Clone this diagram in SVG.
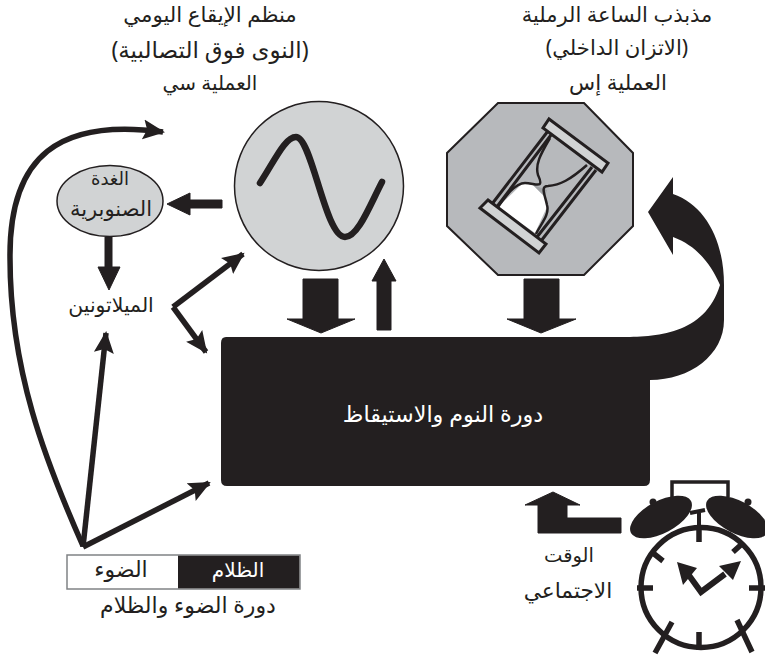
<svg xmlns="http://www.w3.org/2000/svg" width="765" height="659" viewBox="0 0 765 659">
<style>
text{font-family:"Noto Sans","DejaVu Sans",sans-serif;font-size:21px;fill:#231f20;text-anchor:middle;direction:rtl}
.w{fill:#fff}
.k{fill:#231f20;stroke:#231f20;stroke-linejoin:round}
.l{fill:none;stroke:#231f20;stroke-width:5.5}
.g{fill:#d1d3d4;stroke:#231f20;stroke-width:1.5}
</style>
<defs>
<marker id="h" markerUnits="userSpaceOnUse" markerWidth="24" markerHeight="24" refX="20" refY="12" orient="auto" viewBox="0 0 24 24"><path d="M0,2L22,12L0,22L4,12Z" fill="#231f20"/></marker>
</defs>
<rect width="765" height="659" fill="#fff"/>
<g id="connectors">
<path class="l" d="M83,546C45,460 10,370 10,258C9,155 60,118 163,132" marker-end="url(#h)"/>
<path class="l" d="M83,547L106,333" marker-end="url(#h)"/>
<path class="l" d="M83,547L209,483" marker-end="url(#h)"/>
<path class="l" d="M173,307L243,254" marker-end="url(#h)"/>
<path class="l" d="M173,307L206,352" marker-end="url(#h)"/>
<path class="k" d="M222,200V208H190V215L167,204L190,193V200Z"/>
<path class="k" d="M105,237H112V267H120L109,290L98,267H105Z"/>
<path class="k" d="M303,279H338V319H355L321,333L287,319H303Z"/>
<path class="k" d="M524,279H559V319H576L541,333L507,319H524Z"/>
<path class="k" d="M377,330V281H372L384,259L396,281H391V330Z"/>
<path class="k" d="M553,492L580,505H567V518H621V533H538V505H525Z"/>
</g>
<g id="sleep-wake">
<path d="M226,337H620C655,337 705,335 720,285C710,262 695,245 673,237V255L648,212L673,177V194C705,205 724,240 724,285V320C724,355 690,380 650,380V480Q650,486 644,486H227Q221,486 221,480V343Q221,337 226,337Z" fill="#231f20"/>
<text class="w" x="443" y="422" style="font-size:22.300px">دورة النوم والاستيقاظ</text>
</g>
<g id="circadian">
<circle class="g" cx="319" cy="186" r="84.500"/>
<path d="M260,183C275,160 285,137 296,137C312,137 325,237 345,237C358,237 370,205 382,182" fill="none" stroke="#231f20" stroke-width="6.500" stroke-linecap="round"/>
<text x="210" y="22" style="font-size:21.300px">منظم الإيقاع اليومي</text>
<text x="210" y="58" style="font-size:23px">(النوى فوق التصالبية)</text>
<text x="210" y="90" style="font-size:20px">العملية سي</text>
</g>
<g id="hourglass">
<path d="M498,103H584L633,153V226L584,275H498L447,226V153Z" fill="#b7b9bc" stroke="#231f20" stroke-width="2"/>
<path d="M498,207L523,183L533,185L545,197L547,207L535,233Z" fill="#fff"/>
<path d="M533,185L545,197L547,190Z" fill="#a0a2a5"/>
<path d="M550,138C540,155 535,165 538,175C545,190 535,183 525,183C515,183 505,197 498,207M587,165C570,180 560,185 548,186C540,186 545,195 547,205C550,215 540,225 536,234" fill="none" stroke="#231f20" stroke-width="2.500"/>
<path d="M548,131L492,204M551,135L496,208M592,167L537,237M596,170L541,241" stroke="#231f20" stroke-width="3" fill="none"/>
<path d="M549,119L608,163L602,172L543,128ZM488,200L546,244L539,253L480,208Z" fill="#d1d3d4" stroke="#231f20" stroke-width="3"/>
<text x="617" y="22">مذبذب الساعة الرملية</text>
<text x="617" y="55" style="font-size:21.200px">(الاتزان الداخلي)</text>
<text x="618" y="90" style="font-size:21.400px">العملية إس</text>
</g>
<g id="pineal">
<ellipse class="g" cx="110" cy="201" rx="53" ry="35.500"/>
<text x="110" y="185" style="font-size:18px">الغدة</text>
<text x="111" y="216" style="font-size:21px">الصنوبرية</text>
</g>
<g id="melatonin"><text x="111" y="312" style="font-size:20.400px">الميلاتونين</text></g>
<g id="light-dark">
<rect x="67" y="555" width="233" height="34" fill="#fff" stroke="#808285" stroke-width="1.500"/>
<rect x="178" y="555.700" width="121.300" height="32.600" fill="#231f20"/>
<text x="121" y="577" style="font-size:21.900px">الضوء</text>
<text class="w" x="238" y="577" style="font-size:20px">الظلام</text>
<text x="188" y="613" style="font-size:22px">دورة الضوء والظلام</text>
</g>
<g id="social-time">
<text x="569" y="562" style="font-size:19.500px">الوقت</text>
<text x="568" y="598" style="font-size:21.700px">الاجتماعي</text>
</g>
<g id="clock" fill="none" stroke="#231f20" stroke-width="5.500">
<path d="M672,497V482H728V497" stroke-width="3.500"/>
<ellipse cx="661" cy="517" rx="34" ry="16" transform="rotate(-28 661 517)" fill="#231f20" stroke="none"/>
<ellipse cx="737" cy="517" rx="34" ry="16" transform="rotate(28 737 517)" fill="#231f20" stroke="none"/>
<circle cx="653" cy="502" r="3.500" fill="#231f20" stroke="none"/>
<circle cx="748" cy="502" r="3.500" fill="#231f20" stroke="none"/>
<path d="M690,513L705,510M699,512V525" stroke-width="4"/>
<circle cx="701" cy="587.500" r="60" fill="#fff"/>
<path d="M699,525V542M699,632V650M637,588H653M749,588H765M653,553L663,561M733,552L743,543M672,622L655,653M737,620L752,652"/>
<path d="M688,574L701,592L725,574" stroke-width="6"/>
<path d="M677,562L697,568L683,585ZM741,561L719,566L733,580Z" fill="#231f20" stroke="none"/>
</g>
</svg>
